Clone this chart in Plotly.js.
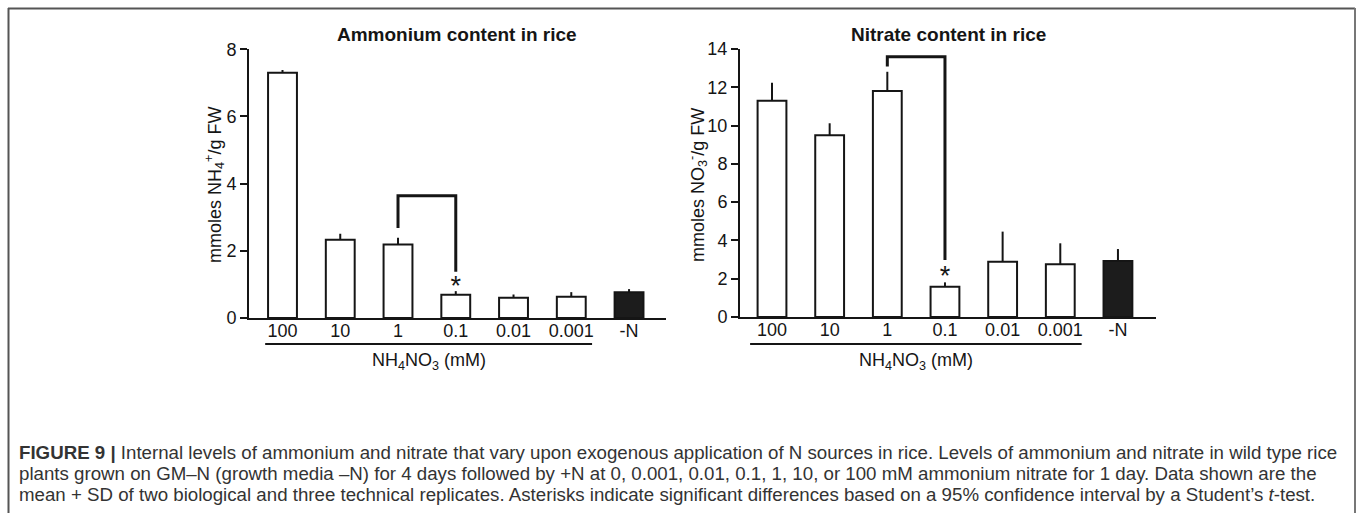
<!DOCTYPE html>
<html><head><meta charset="utf-8">
<script src="https://cdn.plot.ly/plotly-3.0.1.min.js"></script>
<style>html,body{margin:0;padding:0;background:#fff;} #chart{width:1358px;height:513px;}</style>
</head><body><div id="chart"></div>
<script>
// ---- data ----
const categories = ['100', '10', '1', '0.1', '0.01', '0.001', '-N'];
const ammoniumMean = [7.30, 2.33, 2.19, 0.69, 0.60, 0.63, 0.77];
const ammoniumSD   = [0.08, 0.18, 0.20, 0.11, 0.10, 0.14, 0.09];
const nitrateMean  = [11.3, 9.5, 11.8, 1.58, 2.89, 2.75, 2.93];
const nitrateSD    = [0.94, 0.62, 1.01, 0.23, 1.57, 1.10, 0.62];
const barFill      = ['#ffffff', '#ffffff', '#ffffff', '#ffffff', '#ffffff', '#ffffff', '#1c1c1c'];
// significance brackets (from category '1' to category '0.1')
const ammoniumBracketX = ['1', '1', '0.1', '0.1'];
const ammoniumBracketY = [2.68, 3.64, 3.64, 1.38];
const ammoniumStarX = ['0.1'];
const ammoniumStarY = [0.90];
const nitrateBracketX = ['1', '1', '0.1', '0.1'];
const nitrateBracketY = [13.08, 13.6, 13.6, 2.98];
const nitrateStarX = ['0.1'];
const nitrateStarY = [2.0];
const groupLabel = 'NH<sub>4</sub>NO<sub>3</sub> (mM)';
const captionBold = 'FIGURE 9 |';
const captionLines = [
  ' Internal levels of ammonium and nitrate that vary upon exogenous application of N sources in rice. Levels of ammonium and nitrate in wild type rice',
  'plants grown on GM–N (growth media –N) for 4 days followed by +N at 0, 0.001, 0.01, 0.1, 1, 10, or 100 mM ammonium nitrate for 1 day. Data shown are the',
  'mean + SD of two biological and three technical replicates. Asterisks indicate significant differences based on a 95% confidence interval by a Student’s <i>t</i>-test.'
];

// ---- helpers ----
const W = 1358, H = 513;
const px = v => v / W;
const py = v => 1 - v / H;
const FONT = 'Liberation Sans, Arial, Helvetica, sans-serif';
const CAP_FONT = 'Liberation Sans, Arial, sans-serif';
const INK = '#151515';

// fit caption width (first line spans ~18px .. 1338px in the reference)
const cv = document.createElement('canvas').getContext('2d');
cv.font = 'bold 20px "Liberation Sans"';
let wB = cv.measureText(captionBold).width;
cv.font = '20px "Liberation Sans"';
let wN = cv.measureText(captionLines[0]).width;
let capSize = Math.round(20 * 1320 / (wB + wN) * 10) / 10;
if (!isFinite(capSize) || capSize < 10 || capSize > 22) capSize = 16;

function barTrace(y, sd, xa, ya) {
  return {
    type: 'bar', x: categories, y: y, xaxis: xa, yaxis: ya,
    marker: {color: barFill, line: {color: INK, width: 2}},
    error_y: {type: 'data', symmetric: false, array: sd, arrayminus: sd.map(() => 0),
              width: 0, thickness: 2, color: INK},
    hoverinfo: 'skip', showlegend: false
  };
}
function lineTrace(x, y, xa, ya) {
  return {type: 'scatter', mode: 'lines', x: x, y: y, xaxis: xa, yaxis: ya,
          line: {color: INK, width: 3}, hoverinfo: 'skip', showlegend: false, cliponaxis: false};
}
function starTrace(x, y, xa, ya) {
  return {type: 'scatter', mode: 'text', x: x, y: y, xaxis: xa, yaxis: ya, text: x.map(() => '*'),
          textfont: {family: FONT, size: 27, color: INK}, textposition: 'middle center',
          hoverinfo: 'skip', showlegend: false, cliponaxis: false};
}

const data = [
  barTrace(ammoniumMean, ammoniumSD, 'x', 'y'),
  lineTrace(ammoniumBracketX, ammoniumBracketY, 'x', 'y'),
  starTrace(ammoniumStarX, ammoniumStarY, 'x', 'y'),
  barTrace(nitrateMean, nitrateSD, 'x2', 'y2'),
  lineTrace(nitrateBracketX, nitrateBracketY, 'x2', 'y2'),
  starTrace(nitrateStarX, nitrateStarY, 'x2', 'y2')
];

const tickFont = {family: FONT, size: 18, color: INK};
function xAxis(domain, range, anchor) {
  return {domain: domain, type: 'category', range: range, anchor: anchor,
          showline: true, linecolor: INK, linewidth: 2, showgrid: false, zeroline: false,
          ticks: '', ticklabelstandoff: -5, tickfont: tickFont, fixedrange: true};
}
function yAxis(domain, range, anchor) {
  return {domain: domain, range: range, anchor: anchor, dtick: 2,
          showline: true, linecolor: INK, linewidth: 2, showgrid: false, zeroline: false,
          ticks: 'outside', ticklen: 7, tickwidth: 2, tickcolor: INK, tickfont: tickFont, fixedrange: true};
}

const layout = {
  width: W, height: H, margin: {l: 0, r: 0, t: 0, b: 0},
  paper_bgcolor: '#ffffff', plot_bgcolor: 'rgba(0,0,0,0)',
  bargap: 0.5, showlegend: false,
  xaxis: xAxis([px(249), px(666)], [-0.58, 6.64], 'y'),
  yaxis: yAxis([py(318), py(49.3)], [0, 8], 'x'),
  xaxis2: xAxis([px(740), px(1156)], [-0.555, 6.66], 'y2'),
  yaxis2: yAxis([py(317), py(49)], [0, 14], 'x2'),
  shapes: [
    {type: 'line', xref: 'x', yref: 'paper', x0: -0.3, x1: 5.36, y0: py(344), y1: py(344), line: {color: INK, width: 2}},
    {type: 'line', xref: 'x2', yref: 'paper', x0: -0.38, x1: 5.37, y0: py(344), y1: py(344), line: {color: INK, width: 2}},
    {type: 'line', xref: 'paper', yref: 'paper', x0: px(8), x1: px(1355), y0: py(8.5), y1: py(8.5), line: {color: '#555', width: 2}},
    {type: 'line', xref: 'paper', yref: 'paper', x0: px(8.5), x1: px(8.5), y0: py(8), y1: py(513), line: {color: '#555', width: 2}},
    {type: 'line', xref: 'paper', yref: 'paper', x0: px(1355), x1: px(1355), y0: py(8), y1: py(513), line: {color: '#777', width: 2}}
  ],
  annotations: [
    {text: '<b>Ammonium content in rice</b>', xref: 'paper', yref: 'paper', x: px(457), y: py(35), showarrow: false,
     font: {family: FONT, size: 19, color: INK}, xanchor: 'center', yanchor: 'middle'},
    {text: '<b>Nitrate content in rice</b>', xref: 'paper', yref: 'paper', x: px(948), y: py(35), showarrow: false,
     font: {family: FONT, size: 19, color: INK}, xanchor: 'center', yanchor: 'middle'},
    {text: 'mmoles NH<sub>4</sub><sup>+</sup>/g FW', xref: 'paper', yref: 'paper', x: px(214), y: py(185), textangle: -90,
     showarrow: false, font: {family: FONT, size: 18, color: INK}, xanchor: 'center', yanchor: 'middle'},
    {text: 'mmoles NO<sub>3</sub><sup>-</sup>/g FW', xref: 'paper', yref: 'paper', x: px(697), y: py(185), textangle: -90,
     showarrow: false, font: {family: FONT, size: 18, color: INK}, xanchor: 'center', yanchor: 'middle'},
    {text: groupLabel, xref: 'x', yref: 'paper', x: 2.53, y: py(361), showarrow: false,
     font: {family: FONT, size: 18, color: INK}, xanchor: 'center', yanchor: 'middle'},
    {text: groupLabel, xref: 'x2', yref: 'paper', x: 2.5, y: py(361), showarrow: false,
     font: {family: FONT, size: 18, color: INK}, xanchor: 'center', yanchor: 'middle'}
  ].concat(captionLines.map((t, i) => ({
    text: (i === 0 ? '<b>' + captionBold + '</b>' : '') + t,
    xref: 'paper', yref: 'paper', x: px(17), y: py(452 + 21 * i), showarrow: false,
    font: {family: CAP_FONT, size: capSize, color: '#333'},
    xanchor: 'left', yanchor: 'middle', align: 'left'
  })))
};

Plotly.newPlot('chart', data, layout, {displayModeBar: false, staticPlot: true});
</script>
</body></html>
